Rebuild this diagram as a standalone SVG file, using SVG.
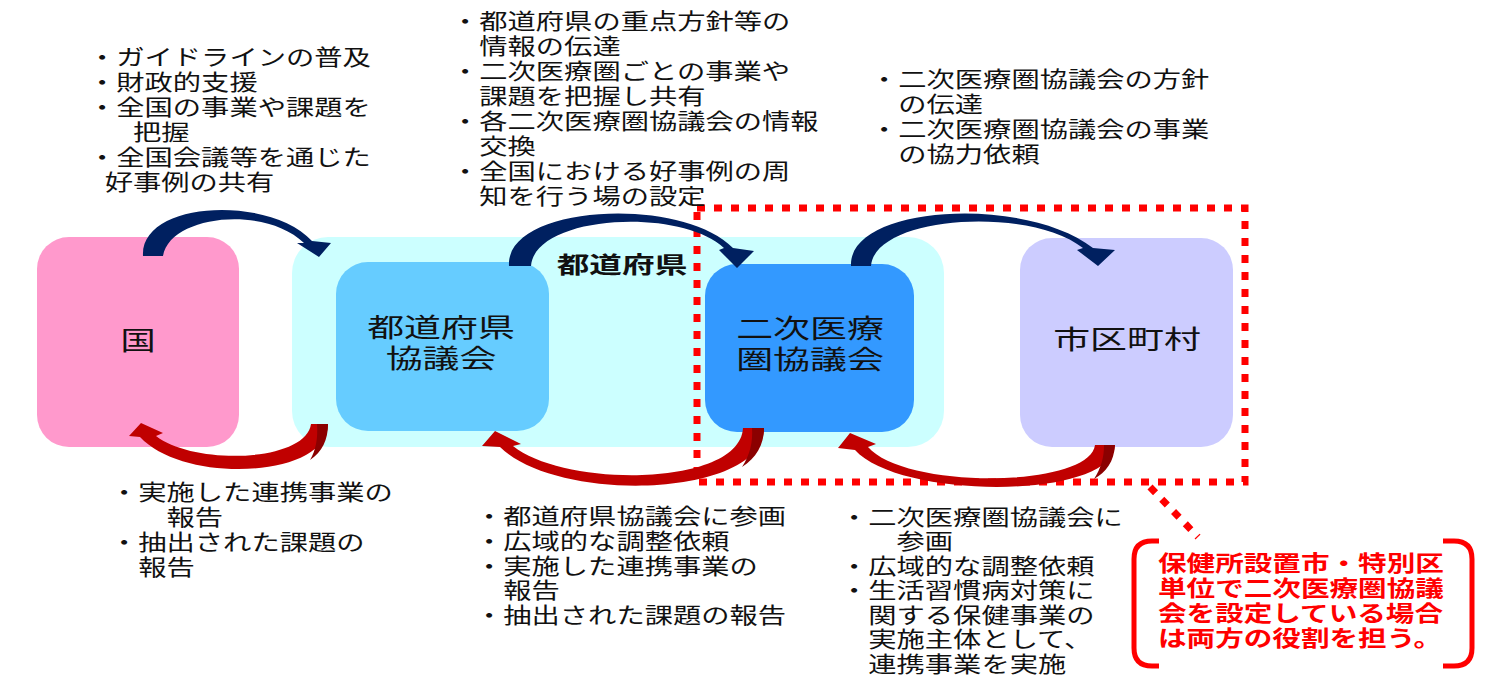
<svg xmlns="http://www.w3.org/2000/svg" width="1489" height="687" viewBox="0 0 1489 687">
<style>
text{font-family:"Liberation Serif","Noto Sans CJK JP","Noto Sans CJK SC",sans-serif;fill:#111}
.body{font-size:22px}
.lbl{font-size:26px}
.bold{font-size:23px;font-weight:bold}
.red{fill:#FF0000;font-weight:bold;font-size:22px}
.navy{fill:#002060}
.crim{fill:#C00000}
.shade{fill:#8B0000}
.dash{fill:none;stroke:#FF0000;stroke-width:7;stroke-dasharray:8 9}
.brk{fill:none;stroke:#FF0000;stroke-width:5}
</style>
<rect width="1489" height="687" fill="#fff"/>

<g id="node-kuni">
<rect x="37" y="237" width="202" height="210" rx="32" fill="#FF99CC"/>
<text class="lbl" text-anchor="middle" transform="translate(138,350) scale(1.35,1)">国</text>
</g>

<g id="node-todofuken">
<rect x="292" y="237" width="652" height="210" rx="36" fill="#CCFFFF"/>
<text class="bold" text-anchor="middle" transform="translate(622,273) scale(1.42,1)">都道府県</text>
</g>

<g id="node-todofuken-kyogikai">
<rect x="336" y="262" width="213" height="169" rx="32" fill="#66CCFF"/>
<text class="lbl" text-anchor="middle" transform="translate(441,0) scale(1.42,1)"><tspan x="0" y="337">都道府県</tspan><tspan x="0" y="368">協議会</tspan></text>
</g>

<g id="node-niji">
<rect x="705" y="264" width="209" height="168" rx="32" fill="#3399FF"/>
<text class="lbl" text-anchor="middle" transform="translate(810,0) scale(1.42,1)"><tspan x="0" y="338">二次医療</tspan><tspan x="0" y="369">圏協議会</tspan></text>
</g>

<g id="node-shikuchoson">
<rect x="1020" y="238" width="213" height="209" rx="32" fill="#CCCCFF"/>
<text class="lbl" text-anchor="middle" transform="translate(1127,349) scale(1.42,1)">市区町村</text>
</g>

<g id="region-dashed">
<rect class="dash" x="697" y="208" width="548" height="274"/>
</g>

<g id="connectors">
<path class="navy" d="M143 256 C140 200 270 195 312 241 L331 243 L319 257 L297 243 L304 243 C265 205 170 215 163 256 Z"/>
<path class="navy" d="M509 266 C505 205 680 195 733 248 L754 251 L737 268 L719 250 L724 248 C680 207 535 215 531 266 Z"/>
<path class="navy" d="M851 266 C848 205 1025 195 1093 248 L1115 250 L1098 266 L1077 250 L1083 248 C1030 206 875 215 871 266 Z"/>
<path class="crim" d="M328 424 C328 478 185 485 140 437 L129 436 L141 423 L163 433 L156 436 C195 466 306 462 311 424 Z"/>
<path class="shade" d="M328 424 C328 440 322 452 310 460 C316 450 318 438 317 424 Z"/>
<path class="crim" d="M764 428 C764 497 560 505 500 447 L482 446 L495 431 L521 444 L513 446 C565 488 740 487 743 428 Z"/>
<path class="shade" d="M764 428 C764 445 756 458 742 467 C750 455 753 442 752 428 Z"/>
<path class="crim" d="M1115 445 C1113 500 900 500 855 450 L838 448 L850 433 L876 444 L868 447 C905 490 1090 488 1095 445 Z"/>
<path class="shade" d="M1115 445 C1114 462 1106 472 1094 479 C1101 468 1104 458 1104 445 Z"/>
<path class="dash" d="M1150 487 L1198 537"/>
</g>

<g id="txt-kuni-down" transform="translate(88,0) scale(1.286,1)">
<text class="body"><tspan x="0" y="65">・ガイドラインの普及</tspan><tspan x="0" y="90">・財政的支援</tspan><tspan x="0" y="115">・全国の事業や課題を</tspan><tspan x="35" y="140">把握</tspan><tspan x="0" y="165">・全国会議等を通じた</tspan><tspan x="13" y="190">好事例の共有</tspan></text>
</g>

<g id="txt-pref-down" transform="translate(451,0) scale(1.286,1)">
<text class="body"><tspan x="0" y="29">・都道府県の重点方針等の</tspan><tspan x="22" y="54">情報の伝達</tspan><tspan x="0" y="79">・二次医療圏ごとの事業や</tspan><tspan x="22" y="104">課題を把握し共有</tspan><tspan x="0" y="129">・各二次医療圏協議会の情報</tspan><tspan x="22" y="154">交換</tspan><tspan x="0" y="179">・全国における好事例の周</tspan><tspan x="22" y="204">知を行う場の設定</tspan></text>
</g>

<g id="txt-niji-down" transform="translate(870,0) scale(1.286,1)">
<text class="body"><tspan x="0" y="87">・二次医療圏協議会の方針</tspan><tspan x="22" y="112">の伝達</tspan><tspan x="0" y="137">・二次医療圏協議会の事業</tspan><tspan x="22" y="162">の協力依頼</tspan></text>
</g>

<g id="txt-pref-up" transform="translate(110,0) scale(1.286,1)">
<text class="body"><tspan x="0" y="500">・実施した連携事業の</tspan><tspan x="44" y="525">報告</tspan><tspan x="0" y="550">・抽出された課題の</tspan><tspan x="22" y="575">報告</tspan></text>
</g>

<g id="txt-niji-up" transform="translate(475,0) scale(1.286,1)">
<text class="body"><tspan x="0" y="524">・都道府県協議会に参画</tspan><tspan x="0" y="549">・広域的な調整依頼</tspan><tspan x="0" y="574">・実施した連携事業の</tspan><tspan x="22" y="598.5">報告</tspan><tspan x="0" y="623">・抽出された課題の報告</tspan></text>
</g>

<g id="txt-city-up" transform="translate(840,0) scale(1.286,1)">
<text class="body"><tspan x="0" y="525">・二次医療圏協議会に</tspan><tspan x="44" y="549.5">参画</tspan><tspan x="0" y="574">・広域的な調整依頼</tspan><tspan x="0" y="598.5">・生活習慣病対策に</tspan><tspan x="22" y="623">関する保健事業の</tspan><tspan x="22" y="647.5">実施主体として、</tspan><tspan x="22" y="672">連携事業を実施</tspan></text>
</g>

<g id="callout">
<path class="brk" d="M1159 541 L1152 541 Q1134 541 1134 559 L1134 648 Q1134 666 1152 666 L1159 666"/>
<path class="brk" d="M1443 541 L1454 541 Q1472 541 1472 559 L1472 648 Q1472 666 1454 666 L1443 666"/>
<g transform="translate(1158,0) scale(1.3,1)">
<text class="red"><tspan x="0" y="571">保健所設置市・特別区</tspan><tspan x="0" y="596">単位で二次医療圏協議</tspan><tspan x="0" y="621">会を設定している場合</tspan><tspan x="0" y="646">は両方の役割を担う。</tspan></text>
</g>
</g>
</svg>
